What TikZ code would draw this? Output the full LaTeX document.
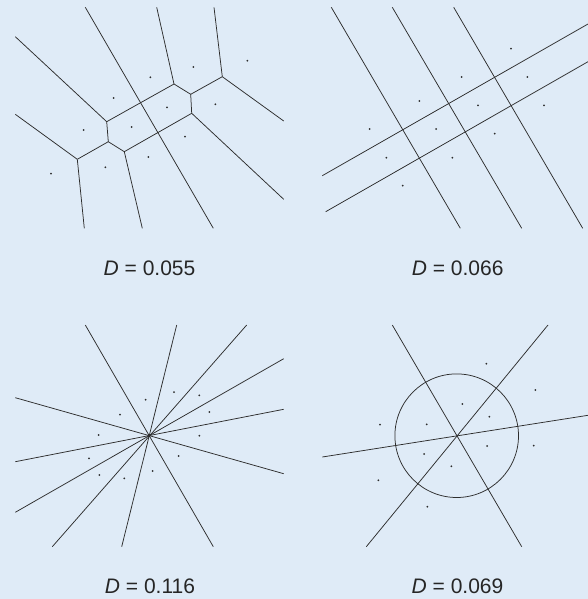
\documentclass[tikz,border=0pt]{standalone}
\usepackage{fontspec}
\setmainfont{Liberation Sans}
\definecolor{bgblue}{RGB}{223,235,247}
\definecolor{ink}{RGB}{45,45,45}
\begin{document}
\begin{tikzpicture}[x=1pt,y=-1pt,
  cell/.style={draw=ink, line width=0.75pt},
  site/.style={fill=ink},
  dlabel/.style={font=\fontsize{21}{24}\selectfont, inner sep=0pt, text=black!85}]
\fill[bgblue] (0,0) rectangle (588,599);
\useasboundingbox (0,0) rectangle (588,599);

% ---------- Panel 1 (Voronoi) ----------
\coordinate (v1) at (106.7,121.7);
\coordinate (v2) at (108.3,141.7);
\coordinate (v3) at (124.3,151.7);
\coordinate (v4) at (191.7,113.3);
\coordinate (v5) at (190.7,94.3);
\coordinate (v6) at (174,84);
\coordinate (v7) at (222.3,76.7);
\coordinate (v8) at (77.3,159.3);
\coordinate (e1) at (15.3,36.7);
\coordinate (e2) at (156.7,7.3);
\coordinate (e3) at (214,7.3);
\coordinate (e4) at (283.7,121);
\coordinate (e5) at (283.7,199.3);
\coordinate (e6) at (142.3,228.3);
\coordinate (e7) at (15.3,114.3);
\coordinate (e8) at (84.3,228.3);
\coordinate (d1) at (85.3,7.3);
\coordinate (d2) at (213.3,228.3);
\path[cell] (e1) -- (v1) -- (v2) -- (v3) -- (v4) -- (v5) -- (v6) -- (v1);
\path[cell] (v6) -- (e2);
\path[cell] (v5) -- (v7) -- (e3);
\path[cell] (v7) -- (e4);
\path[cell] (v4) -- (e5);
\path[cell] (v3) -- (e6);
\path[cell] (v2) -- (v8) -- (e7);
\path[cell] (v8) -- (e8);
\path[cell] (d1) -- (d2);
\foreach \p in {(247.3,60.7),(193.3,67),(150.3,77.3),(113.7,98),(167,107.3),(215.3,104.3),(83.7,130),(131.7,127),(185,136.7),(148.3,157),(105.3,167.3),(51,173.7)}
  \fill[site] \p circle (1.0);
\node[dlabel] (l1) at (149.5,268.5) {\textit{D} = 0.055};

% ---------- Panel 2 (grid) ----------
\coordinate (a1) at (331.3,7.3);  \coordinate (a2) at (460.3,228.3);
\coordinate (b1) at (392.3,7.3);  \coordinate (b2) at (521.7,228.3);
\coordinate (c1) at (453.7,7.3);  \coordinate (c2) at (582.7,228.3);
\coordinate (h1) at (322.3,175.7); \coordinate (h2) at (588,24);
\coordinate (k1) at (325.7,211.7); \coordinate (k2) at (588,61.7);
\path[cell] (a1) -- (a2);
\path[cell] (b1) -- (b2);
\path[cell] (c1) -- (c2);
\path[cell] (h1) -- (h2);
\path[cell] (k1) -- (k2);
\foreach \p in {(511,48.7),(461.7,77),(527.3,77),(419.3,101),(478,105.3),(544,105.3),(369.7,129),(436,129),(494.7,133.7),(386.3,157.7),(452.3,157.7),(402.7,185.7)}
  \fill[site] \p circle (1.0);
\node[dlabel] (l2) at (457.7,268.5) {\textit{D} = 0.066};

% ---------- Panel 3 (star) ----------
\coordinate (s0) at (149,435.7);
\coordinate (r1) at (85.3,325);   \coordinate (r2) at (213.3,546.7);
\coordinate (r3) at (176.7,325);  \coordinate (r4) at (121.7,546.7);
\coordinate (r5) at (246.7,325);  \coordinate (r6) at (52.3,546.7);
\coordinate (r7) at (283.7,358.7); \coordinate (r8) at (15.3,512.3);
\coordinate (r9) at (283.7,409.3); \coordinate (r10) at (15.3,461.7);
\coordinate (r11) at (15.3,397.7); \coordinate (r12) at (283.7,473.7);
\path[cell] (r1) -- (r2);
\path[cell] (r3) -- (r4);
\path[cell] (r5) -- (r6);
\path[cell] (r7) -- (r8);
\path[cell] (r9) -- (r10);
\path[cell] (r11) -- (r12);
\fill[site] (s0) circle (1.4);
\foreach \p in {(174,392),(199.3,395.3),(145.7,399.7),(120,414.7),(209.3,412),(98.7,435),(199.3,435.7),(89,458.3),(178.7,456),(152.7,471),(99.3,475),(124.3,478.3)}
  \fill[site] \p circle (1.0);
\node[dlabel] (l3) at (150,586) {\textit{D} = 0.116};

% ---------- Panel 4 (circle and lines) ----------
\coordinate (c0) at (456.7,435.7);
\coordinate (t1) at (392.3,325);  \coordinate (t2) at (521.7,546.7);
\coordinate (t3) at (548,325);    \coordinate (t4) at (366.3,546.7);
\coordinate (t5) at (322.3,457);  \coordinate (t6) at (588,415.3);
\path[cell] (c0) circle (61.8);
\path[cell] (t1) -- (t2);
\path[cell] (t3) -- (t4);
\path[cell] (t5) -- (t6);
\foreach \p in {(486.3,363.7),(535.3,390),(462.3,404),(489.3,416.7),(380,424.7),(426.7,424.3),(487,446),(533.7,445.7),(424,454),(451.3,466.3),(378.3,480.3),(427.3,506.7)}
  \fill[site] \p circle (1.0);
\node[dlabel] (l4) at (457.5,586) {\textit{D} = 0.069};
\end{tikzpicture}
\end{document}
